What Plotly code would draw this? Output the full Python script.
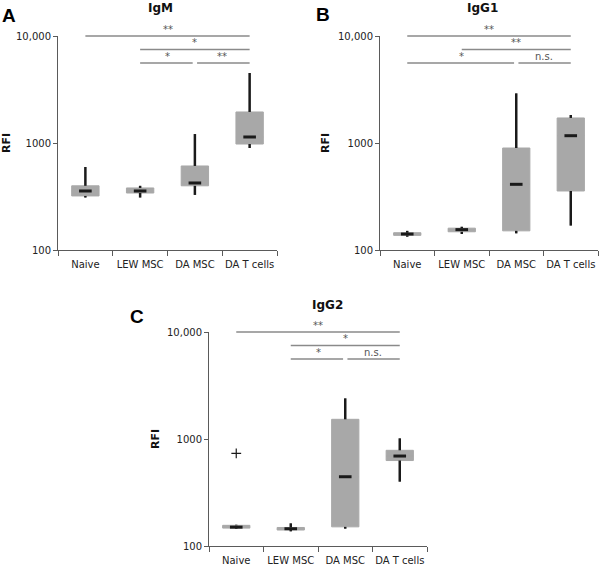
import plotly.graph_objects as go

# ---------------- data ----------------
categories = ["Naive", "LEW MSC", "DA MSC", "DA T cells"]

igm_min = [309, 309, 327, 898]
igm_q1 = [320, 341, 398, 978]
igm_med = [356, 356, 423, 1138]
igm_q3 = [398, 380, 610, 1950]
igm_max = [597, 398, 1213, 4510]

igg1_min = [133, 141, 143, 169]
igg1_q1 = [137, 148, 151, 356]
igg1_med = [141, 155, 411, 1170]
igg1_q3 = [145, 160, 898, 1714]
igg1_max = [151, 165, 2912, 1828]

igg2_min = [145, 137, 145, 399]
igg2_q1 = [147, 141, 151, 629]
igg2_med = [150, 145, 444, 693]
igg2_q3 = [156, 149, 1528, 784]
igg2_max = [158, 163, 2400, 1015]
igg2_outlier_cat = ["Naive"]
igg2_outlier_val = [735]

y_tickvals = [100, 1000, 10000]
y_ticktext = ["100", "1000", "10,000"]

# significance brackets: (from category index, to category index, row, label)
sig_igm = [(0, 3, 0, "**"), (1, 3, 1, "*"), (1, 2, 2, "*"), (2, 3, 2, "**")]
sig_igg1 = [(0, 3, 0, "**"), (1, 3, 1, "**"), (0, 2, 2, "*"), (2, 3, 2, "n.s.")]
sig_igg2 = [(0, 3, 0, "**"), (1, 3, 1, "*"), (1, 2, 2, "*"), (2, 3, 2, "n.s.")]

titles = ["IgM", "IgG1", "IgG2"]
letters = ["A", "B", "C"]

# ---------------- layout geometry ----------------
W, H = 600, 564
panels = [
    dict(x0=58, x1=277, y0=36, y1=250, title_xy=(160, 8), letter_xy=(8.5, 15.5), rfi_x=7),
    dict(x0=380, x1=598, y0=36, y1=250, title_xy=(482, 8), letter_xy=(323, 14.5), rfi_x=326),
    dict(x0=209, x1=427, y0=332, y1=546, title_xy=(327, 305), letter_xy=(137, 316.5), rfi_x=155),
]
row_levels = [1.0, 0.937, 0.874]

BOX_COLOR = "#a8a8a8"
WHISK_COLOR = "#1a1a1a"
SIG_COLOR = "#8a8a8a"
AXIS_COLOR = "#5a5a5a"
FONT = "DejaVu Sans"

data_sets = [
    (igm_min, igm_q1, igm_med, igm_q3, igm_max, [], []),
    (igg1_min, igg1_q1, igg1_med, igg1_q3, igg1_max, [], []),
    (igg2_min, igg2_q1, igg2_med, igg2_q3, igg2_max, igg2_outlier_cat, igg2_outlier_val),
]
sig_sets = [sig_igm, sig_igg1, sig_igg2]

fig = go.Figure()
layout_axes = {}
shapes = []
annotations = []

for p, (pan, ds, sigs) in enumerate(zip(panels, data_sets, sig_sets)):
    mn, q1, med, q3, mx, ocat, oval = ds
    sfx = "" if p == 0 else str(p + 1)
    xa, ya = "x" + sfx, "y" + sfx

    # box (gray, opaque, gray outline)
    fig.add_trace(go.Box(
        x=categories, q1=q1, median=med, q3=q3, lowerfence=mn, upperfence=mx,
        width=0.5, fillcolor=BOX_COLOR, line=dict(color=BOX_COLOR, width=1),
        whiskerwidth=0, boxpoints=False, showlegend=False, hoverinfo="skip",
        xaxis=xa, yaxis=ya,
    ))
    # black whiskers
    wx, wy = [], []
    for c, a, b, c3, d in zip(categories, mn, q1, q3, mx):
        wx += [c, c, None, c, c, None]
        wy += [a, b, None, c3, d, None]
    fig.add_trace(go.Scatter(
        x=wx, y=wy, mode="lines", line=dict(color=WHISK_COLOR, width=2.5),
        showlegend=False, hoverinfo="skip", xaxis=xa, yaxis=ya,
    ))
    # median dash
    fig.add_trace(go.Scatter(
        x=categories, y=med, mode="markers",
        marker=dict(symbol="line-ew", size=9, line=dict(color=WHISK_COLOR, width=3)),
        showlegend=False, hoverinfo="skip", xaxis=xa, yaxis=ya,
    ))
    if ocat:
        fig.add_trace(go.Scatter(
            x=ocat, y=oval, mode="markers",
            marker=dict(symbol="cross-thin", size=7, line=dict(color=WHISK_COLOR, width=1.2)),
            showlegend=False, hoverinfo="skip", xaxis=xa, yaxis=ya,
        ))

    xdom = [pan["x0"] / W, pan["x1"] / W]
    ydom = [1 - pan["y1"] / H, 1 - pan["y0"] / H]
    xkey = "xaxis" + sfx
    ykey = "yaxis" + sfx
    layout_axes[xkey] = dict(
        domain=xdom, anchor=ya, type="category", range=[-0.5, 3.5],
        categoryorder="array", categoryarray=categories,
        showline=True, linecolor=AXIS_COLOR, linewidth=1,
        ticks="outside", tickson="boundaries", ticklen=5, tickcolor=AXIS_COLOR,
        tickangle=0, ticklabelstandoff=5, showgrid=False, zeroline=False, automargin=False,
        tickfont=dict(family=FONT, size=10, color="#222"),
    )
    layout_axes[ykey] = dict(
        domain=ydom, anchor=xa, type="log", range=[2, 4],
        tickvals=y_tickvals, ticktext=y_ticktext,
        showline=True, linecolor=AXIS_COLOR, linewidth=1,
        ticks="outside", ticklen=4, tickcolor=AXIS_COLOR,
        showgrid=False, zeroline=False, automargin=False,
        tickfont=dict(family=FONT, size=10, color="#222"),
    )

    # significance bars
    for (i, j, row, lab) in sigs:
        a, b = float(i), float(j)
        for (i2, j2, row2, _l) in sigs:
            if row2 == row and (i2, j2) != (i, j):
                if j == i2:
                    b -= 0.04
                if i == j2:
                    a += 0.04
        yl = row_levels[row]
        shapes.append(dict(
            type="line", xref=xa, yref=ya + " domain", x0=a, x1=b, y0=yl, y1=yl,
            line=dict(color=SIG_COLOR, width=1.5),
        ))
        annotations.append(dict(
            xref=xa, yref=ya + " domain", x=(i + j) / 2, y=yl, yanchor="bottom",
            xanchor="center", text=lab, showarrow=False, yshift=-1,
            font=dict(family=FONT, size=10, color="#555"),
        ))

    # title, panel letter, RFI label
    tx, ty = pan["title_xy"]
    annotations.append(dict(
        xref="paper", yref="paper", x=tx / W, y=1 - ty / H, text="<b>" + titles[p] + "</b>",
        showarrow=False, xanchor="center", yanchor="middle",
        font=dict(family=FONT, size=12, color="#111"),
    ))
    lx, ly = pan["letter_xy"]
    annotations.append(dict(
        xref="paper", yref="paper", x=lx / W, y=1 - ly / H, text="<b>" + letters[p] + "</b>",
        showarrow=False, xanchor="center", yanchor="middle",
        font=dict(family="Liberation Sans", size=19, color="#000"),
    ))
    annotations.append(dict(
        xref="paper", yref="paper", x=pan["rfi_x"] / W, y=1 - (pan["y0"] + pan["y1"]) / 2 / H,
        text="<b>RFI</b>", textangle=-90, showarrow=False, xanchor="center", yanchor="middle",
        font=dict(family=FONT, size=11, color="#111"),
    ))

fig.update_layout(
    width=W, height=H, margin=dict(l=0, r=0, t=0, b=0),
    paper_bgcolor="white", plot_bgcolor="white", showlegend=False,
    shapes=shapes, annotations=annotations, **layout_axes,
)

fig.write_html(
    "out.html",
    config={"displayModeBar": False},
    post_script="document.body.style.margin='0';document.body.style.padding='0';",
)
